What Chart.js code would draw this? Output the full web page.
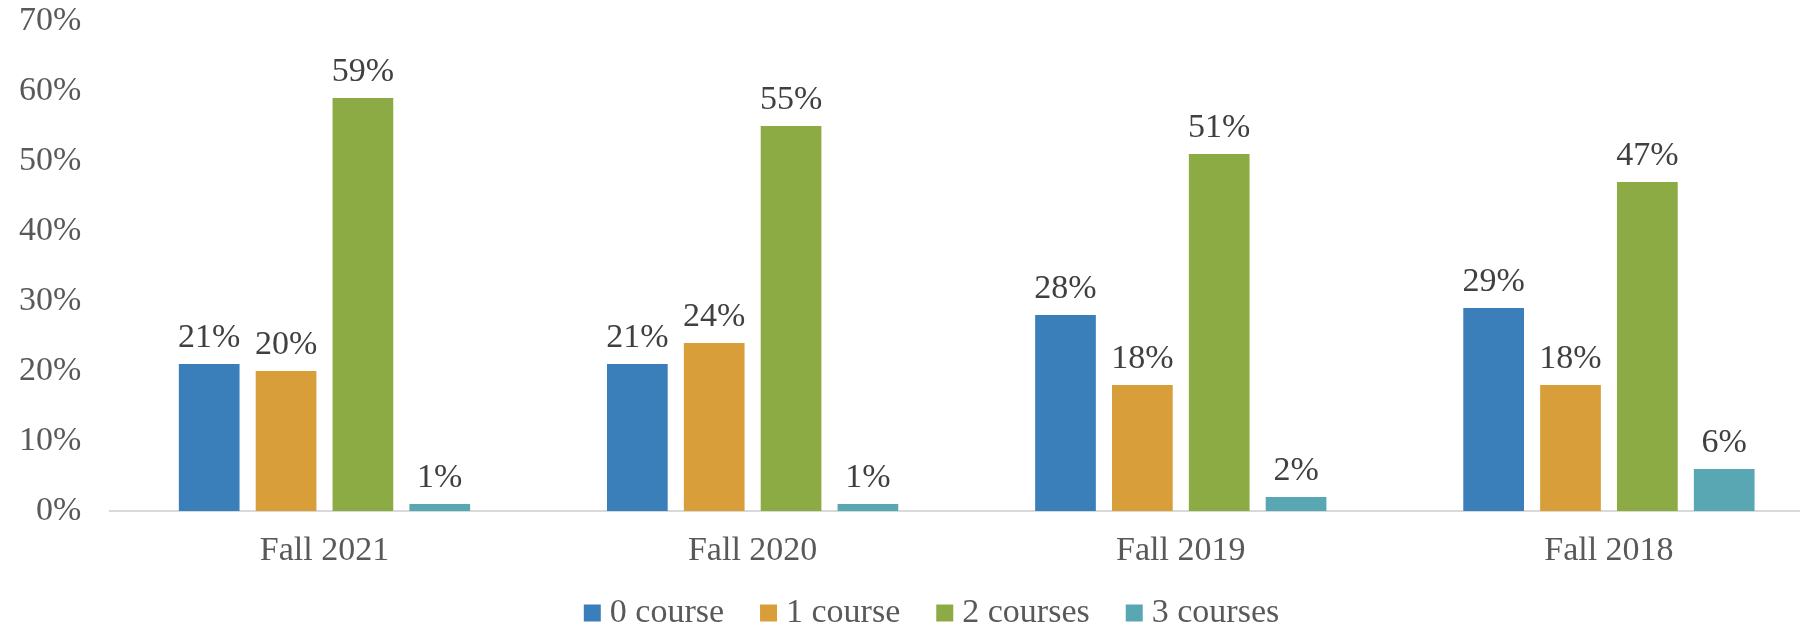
<!DOCTYPE html>
<html>
<head>
<meta charset="utf-8">
<script src="https://cdn.jsdelivr.net/npm/chart.js@4"></script>
<style>
  html, body { margin: 0; padding: 0; background: #ffffff; overflow: hidden; }
  #wrap { width: 1800px; height: 627px; overflow: hidden; position: relative; }
  canvas { display: block; margin-top: -29px; }
</style>
</head>
<body>
<div id="wrap"><canvas id="c" width="1871" height="669"></canvas></div>
<script>
const categories = ["Fall 2021", "Fall 2020", "Fall 2019", "Fall 2018"];
const seriesNames = ["0 course", "1 course", "2 courses", "3 courses"];
const course0 = [21, 21, 28, 29];
const course1 = [20, 24, 18, 18];
const course2 = [59, 55, 51, 47];
const course3 = [1, 1, 2, 6];
const seriesColors = ["#3B7FBA", "#D89E39", "#8CAB44", "#5AA7B4"];
const yMin = 0, yMax = 70, yStep = 10;

const FONT = "'Liberation Serif', 'Times New Roman', serif";

const valueLabels = {
  id: 'valueLabels',
  beforeDraw(chart) {
    // let x-axis tick labels draw outside the (short) axis box without clipping
    chart.scales.x._computeLabelArea = () => undefined;
  },
  afterDatasetsDraw(chart) {
    const ctx = chart.ctx;
    ctx.save();
    ctx.font = "34px " + FONT;
    ctx.fillStyle = "#404040";
    ctx.textAlign = "center";
    ctx.textBaseline = "alphabetic";
    chart.data.datasets.forEach((ds, i) => {
      const meta = chart.getDatasetMeta(i);
      meta.data.forEach((el, j) => {
        ctx.fillText(ds.data[j] + "%", el.x, el.y - 17);
      });
    });
    ctx.restore();
  }
};

const allSeries = [course0, course1, course2, course3];

new Chart(document.getElementById('c'), {
  type: 'bar',
  data: {
    labels: categories,
    datasets: allSeries.map((d, i) => ({
      label: seriesNames[i],
      data: d,
      backgroundColor: seriesColors[i],
      borderWidth: 0,
      categoryPercentage: 0.718,
      barPercentage: 0.79
    }))
  },
  options: {
    responsive: false,
    animation: false,
    devicePixelRatio: 1,
    layout: { padding: 0 },
    plugins: {
      tooltip: { enabled: false },
      legend: {
        position: 'bottom',
        align: 'center',
        labels: {
          usePointStyle: true,
          pointStyle: 'rect',
          boxWidth: 1,
          boxHeight: 17,
          padding: 44,
          color: '#595959',
          font: { family: FONT, size: 34 }
        }
      }
    },
    scales: {
      x: {
        grid: { display: false, drawTicks: false },
        border: { display: true, color: '#d9d9d9', width: 2 },
        ticks: { color: '#595959', padding: 20, font: { family: FONT, size: 34 } },
        afterFit(s) { s.height = 41; }
      },
      y: {
        min: yMin, max: yMax,
        grid: { display: false, drawTicks: false },
        border: { display: false },
        ticks: {
          stepSize: yStep,
          color: '#595959',
          padding: 29,
          font: { family: FONT, size: 34, lineHeight: 1.235 },
          callback: v => v + '%'
        },
        afterFit(s) { s.width = 110.4; }
      },
      yR: {
        position: 'right',
        display: true,
        grid: { display: false, drawTicks: false },
        border: { display: false },
        ticks: { display: false },
        afterFit(s) { s.width = 48; }
      }
    }
  },
  plugins: [valueLabels]
});
</script>
</body>
</html>
